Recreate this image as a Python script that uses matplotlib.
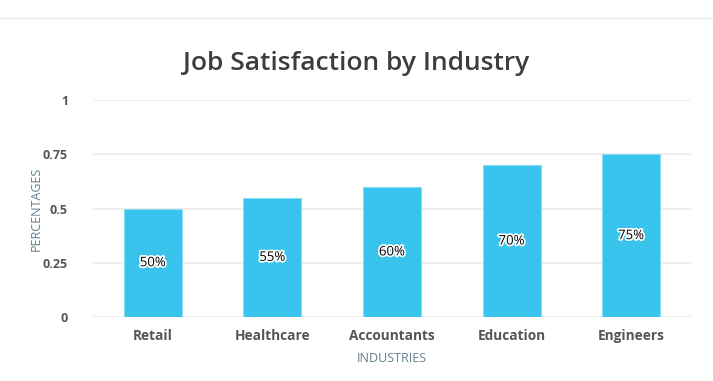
import matplotlib.pyplot as plt
import matplotlib.patheffects as pe
from matplotlib.lines import Line2D

industries = ['Retail', 'Healthcare', 'Accountants', 'Education', 'Engineers']
satisfaction = [0.50, 0.55, 0.60, 0.70, 0.75]
y_ticks = [0, 0.25, 0.5, 0.75, 1]
y_tick_labels = ['0', '0.25', '0.5', '0.75', '1']

plt.rcParams['font.family'] = ['Open Sans', 'DejaVu Sans']

fig = plt.figure(figsize=(7.13, 3.81), dpi=100)
ax = fig.add_axes([0.1304, 0.168, 0.8386, 0.5695])

# thin line along the top of the card
fig.add_artist(Line2D([0, 1], [1 - 18 / 381, 1 - 18 / 381], transform=fig.transFigure,
                      color='#e6eef5', linewidth=1))

x = range(len(industries))
bars = ax.bar(x, satisfaction, width=0.485, color='#38c4ec', edgecolor='#8adcf4',
              linewidth=0.8, zorder=3)

for xi, v in zip(x, satisfaction):
    ax.text(xi, v / 2, f'{int(round(v * 100))}%', ha='center', va='center',
            fontsize=9.5, color='black', zorder=4,
            path_effects=[pe.withStroke(linewidth=2.5, foreground='white')])

ax.set_xlim(-0.5, len(industries) - 0.5)
ax.set_ylim(0, 1)
ax.set_yticks(y_ticks)
ax.set_yticklabels(y_tick_labels, fontsize=9, fontweight='bold', color='#555555')
ax.set_xticks(list(x))
ax.set_xticklabels(industries, fontsize=9.8, fontweight='bold', color='#555555')
ax.tick_params(axis='both', length=0)
ax.tick_params(axis='y', pad=18)
ax.tick_params(axis='x', pad=9)

ax.grid(axis='y', color='#eeeeee', linewidth=1.6, zorder=0)
for s in ax.spines.values():
    s.set_visible(False)

ax.set_ylabel('PERCENTAGES', fontsize=9, color='#5f7f8c', labelpad=0)
ax.set_xlabel('INDUSTRIES', fontsize=9, color='#5f7f8c', labelpad=6)

fig.text(0.5, 1 - 63 / 381, 'Job Satisfaction by Industry', ha='center', va='center',
         fontsize=19, fontweight='semibold', color='#3d3d3d')

fig.savefig('out.png', dpi=100, facecolor='white')
